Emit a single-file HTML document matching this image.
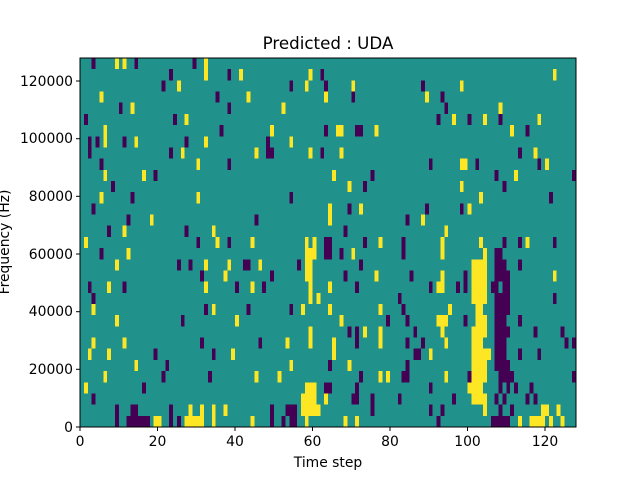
<!DOCTYPE html>
<html><head><meta charset="utf-8"><style>
body{margin:0;background:#fff;width:640px;height:480px;overflow:hidden;font-family:"DejaVu Sans","Liberation Sans",sans-serif}
.Y{fill:#fde725}.P{fill:#440154}
</style></head><body>
<div style="position:absolute;left:0;top:0;width:640px;height:480px">
<svg style="position:absolute;left:80px;top:58px" width="496" height="369" viewBox="0 0 128 33" preserveAspectRatio="none" shape-rendering="crispEdges">
<rect x="0" y="0" width="128" height="33" fill="#21918c"/>
<g id="d"></g>
</svg>
<svg style="position:absolute;left:0;top:0" width="640" height="480">
<rect x="80" y="58" width="496" height="369" fill="none" stroke="#000" stroke-width="1"/>
<g stroke="#000" stroke-width="1">
<line x1="80" y1="427" x2="80" y2="431"/><line x1="157.5" y1="427" x2="157.5" y2="431"/><line x1="235" y1="427" x2="235" y2="431"/><line x1="312.5" y1="427" x2="312.5" y2="431"/><line x1="390" y1="427" x2="390" y2="431"/><line x1="467.5" y1="427" x2="467.5" y2="431"/><line x1="545" y1="427" x2="545" y2="431"/>
<line x1="76" y1="427" x2="80" y2="427"/><line x1="76" y1="369.3" x2="80" y2="369.3"/><line x1="76" y1="311.7" x2="80" y2="311.7"/><line x1="76" y1="254" x2="80" y2="254"/><line x1="76" y1="196.3" x2="80" y2="196.3"/><line x1="76" y1="138.7" x2="80" y2="138.7"/><line x1="76" y1="81" x2="80" y2="81"/>
</g>
<g font-size="13.9" text-anchor="middle" font-family="DejaVu Sans, sans-serif">
<text x="80" y="446">0</text><text x="157.5" y="446">20</text><text x="235" y="446">40</text><text x="312.5" y="446">60</text><text x="390" y="446">80</text><text x="467.5" y="446">100</text><text x="545" y="446">120</text>
</g>
<g font-size="13.9" text-anchor="end" font-family="DejaVu Sans, sans-serif">
<text x="73" y="432">0</text><text x="73" y="374">20000</text><text x="73" y="316">40000</text><text x="73" y="259">60000</text><text x="73" y="201">80000</text><text x="73" y="143">100000</text><text x="73" y="86">120000</text>
</g>
<text x="328" y="49" font-size="16.7" text-anchor="middle" font-family="DejaVu Sans, sans-serif">Predicted : UDA</text>
<text x="328" y="467" font-size="13.9" text-anchor="middle" font-family="DejaVu Sans, sans-serif">Time step</text>
<text x="0" y="0" font-size="13.9" text-anchor="middle" transform="translate(9,242) rotate(-90)" font-family="DejaVu Sans, sans-serif">Frequency (Hz)</text>
</svg>
</div>
<script>
var rows=[
"P3 Y9 Y11 P14 P29 Y32h2",
"P23 Y41 P38 Y59 P62 Y122",
"P21 Y25 P54 Y58 P63 Y70 P88 Y98",
"Y5 P35 Y43 Y63 P70 Y89 P93",
"P10 Y13 P38 Y52 P94 Y108",
"P1 P24 Y27 P92 Y96 P100 Y104 P108 Y118",
"Y6h2 P36 Y49 P63 Y66w2 P71w2 Y76 Y111 P115",
"P2h2 P4 P11 Y14 P27 Y32 P48h2 Y54",
"P23 Y26 Y45 P49 Y59 P62 Y67 P113 Y117",
"P5 Y30 P38 P90 Y98w2 P102 P118 Y120",
"Y6 Y16 P19 Y65 P75 P107 Y112 P127",
"P8 Y69 P73 Y98 P109",
"Y5 P13 Y30 P54 Y103 P121",
"P3 Y64h2 P69 Y72 P89 P98 Y100",
"P12 Y18 P45 P84 Y88",
"P7 Y11 P27 Y34 P68 Y94",
"Y1 P30 Y35 P38 Y44 Y58 Y60 P63w2 P73 Y77 P83 Y93 Y103 P109 P113 Y115 P122",
"P5 Y12 Y58w3 P63w2 P67 Y70 P83 Y93 Y104 P107w2",
"Y9 P25 P28 Y32 Y38 P42w2 Y46 P56 Y58w2 P72 Y101w4 P107w3 P113",
"P31 Y37 P49 Y58w2 P68 Y76 P85 Y93 P99 Y101w4 P107w4 Y122",
"P2 Y7 P11 Y32 P40 Y44 P47 Y59 Y64 P71 P90 Y92w2 P97 P99 Y101w4 P106w2 P109w2",
"P3 Y59 Y61 P82 Y101w4 P107w4 P122",
"Y3 P32 Y34 P43 P54 Y57 Y64 Y77 P83 Y95 Y102w2 P107w4",
"Y9 P26 Y40 Y67 P79 P84 Y92w3 P99 Y102w3 P107w3 P113",
"Y59 P69 P71 Y73 Y77 P86 Y93 Y101w4 P107w4 P117 P124",
"Y3 Y11 P31 P46 Y53 Y59 Y65 P71 Y77 P84 P88 Y94 Y101w3 P107w3 P125 P127",
"Y2 Y7 P19 P34 Y39 Y65 P86w2 Y90 Y101w5 P107w3 P113 P118",
"Y14 P22 Y54 P64 Y69 P84 Y101w4 P107w4",
"Y6 P21 P33 Y45 Y51 P72 Y77 Y79 P83w2 Y94 P100 Y101w4 P108w4 P127",
"Y1 P16 Y58w3 P63w2 P71 P90 Y100w4 P108 P110 P112 P116",
"P3 Y57w4 Y63 P70w2 P75 P82 P96 Y101w4 P107 P109 P115 P117",
"P9h2 P13w2 P23h2 Y28 Y31 Y34h2 Y37 P49h2 P53w3 Y57w5 P75 P90 P93 Y104 P108 P111 Y119w2 Y123",
"P12w6 Y19w2 P25 Y27w5 Y44 P52 P54w2 Y58 Y68 Y71 P92 P106w5 Y113 Y116w4 Y121 Y124"];
var s="";
rows.forEach(function(r,i){r.split(" ").forEach(function(t){var m=t.match(/^([YP])(\d+)(?:w(\d+))?(?:h(\d+))?$/);if(!m)return;
s+='<rect class="'+m[1]+'" x="'+m[2]+'" y="'+i+'" width="'+(m[3]||1)+'" height="'+(m[4]||1)+'"/>';});});
document.getElementById("d").innerHTML=s;
</script>
</body></html>
